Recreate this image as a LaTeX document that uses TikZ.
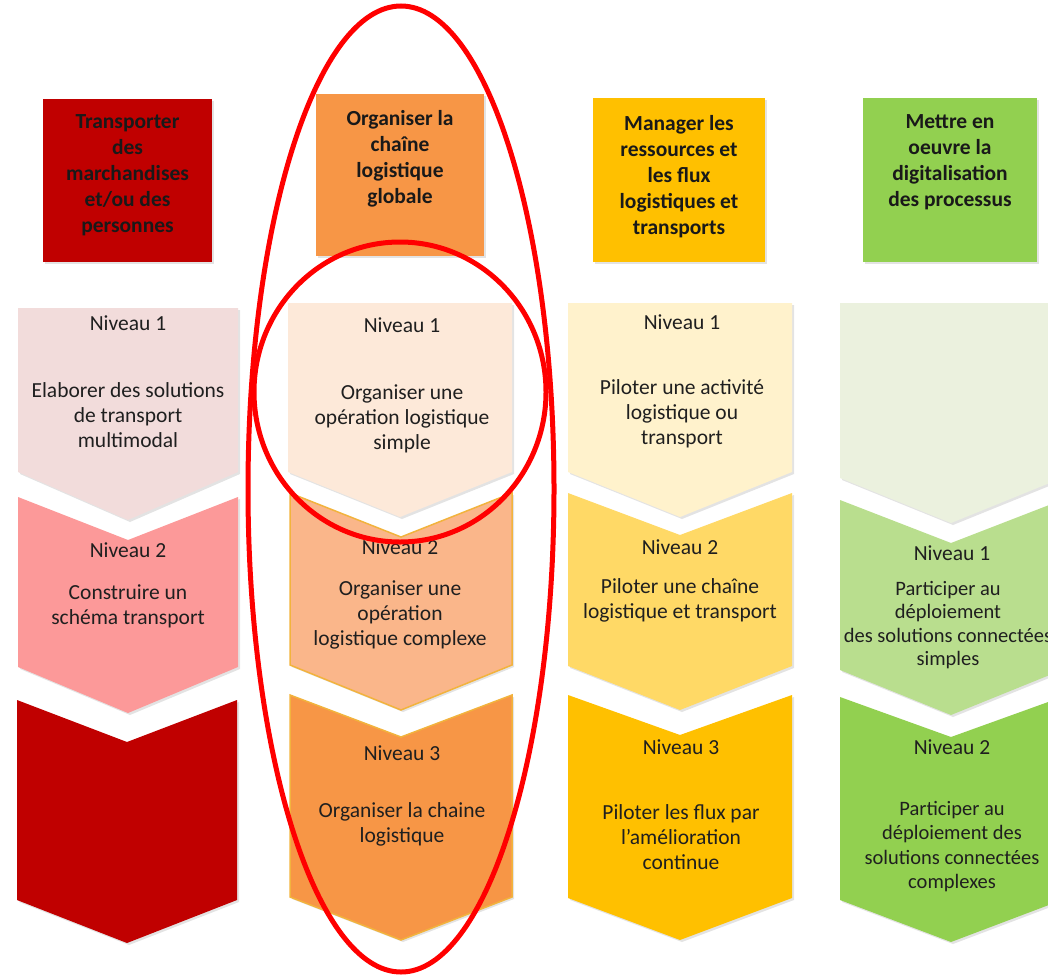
\documentclass[tikz,border=0pt]{standalone}
\usepackage{fontspec}
\setmainfont{Carlito}
\usetikzlibrary{shadows}

\definecolor{redA}{HTML}{C00000}
\definecolor{redB}{HTML}{F2DCDB}
\definecolor{redC}{HTML}{FC9999}
\definecolor{orA}{HTML}{F79646}
\definecolor{orB}{HTML}{FDE9D9}
\definecolor{orC}{HTML}{FAB68A}
\definecolor{orLine}{HTML}{F2B33D}
\definecolor{yeA}{HTML}{FFC000}
\definecolor{yeB}{HTML}{FFF2CC}
\definecolor{yeC}{HTML}{FFD966}
\definecolor{grA}{HTML}{92D050}
\definecolor{grB}{HTML}{EBF1DE}
\definecolor{grC}{HTML}{B9DE8E}

\tikzset{
  shade/.style={drop shadow={shadow xshift=2pt, shadow yshift=-2pt, opacity=.22}},
  hbox/.style={shade, inner sep=0pt},
  htxt/.style={align=center, inner sep=0pt, text=black!90, font=\fontsize{21.5}{26}\selectfont\bfseries},
  lvl/.style={inner sep=0pt, text=black!88, font=\fontsize{21.5}{25}\selectfont},
  body/.style={lvl, align=center},
  ring/.style={draw=red, line width=5pt}
}

\begin{document}
\begin{tikzpicture}[x=1pt, y=-1pt]
      \useasboundingbox (0,0) rectangle (1048,974);

      % en-tetes
      \node[hbox, fill=redA, minimum width=169, minimum height=163] (h1) at (127.5,180.5) {};
      \node[htxt] (h1t) at (127.5,175) {Transporter\\des\\marchandises\\et/ou des\\personnes};
      \node[hbox, fill=orA, minimum width=168, minimum height=162] (h2) at (400,175) {};
      \node[htxt] (h2t) at (400,158.5) {Organiser la\\chaîne\\logistique\\globale};
      \node[hbox, fill=yeA, minimum width=172, minimum height=164] (h3) at (679,180) {};
      \node[htxt] (h3t) at (679,176.5) {Manager les\\ressources et\\les flux\\logistiques et\\transports};
      \node[hbox, fill=grA, minimum width=174, minimum height=164] (h4) at (950,180) {};
      \node[htxt] (h4t) at (950,162) {Mettre en\\oeuvre la\\digitalisation\\des processus};


      % colonne 1
      \fill[shade, redB] (18,308) -- (238,308) -- (238,472) -- (128,520) -- (18,472) -- cycle;
      \fill[shade, redC] (18,497) -- (128,540) -- (238,497) -- (238,667) -- (128,713) -- (18,667) -- cycle;
      \fill[shade, redA] (17,700) -- (127,742) -- (237,700) -- (237,900) -- (127,943) -- (17,900) -- cycle;
      \node[lvl] (n11) at (128,323) {Niveau 1};
      \node[body] (t11) at (128,415) {Elaborer des solutions\\de transport\\multimodal};
      \node[lvl] (n12) at (128,550) {Niveau 2};
      \node[body] (t12) at (128,606.5) {Construire un\\schéma transport};


      % colonne 2
      \fill[shade, orB] (288,303) -- (512,303) -- (512,472) -- (400,517) -- (288,472) -- cycle;
      \filldraw[shade, fill=orC, draw=orLine, line width=1.5pt] (290,493) -- (401,537) -- (512,493) -- (512,665) -- (401,710) -- (290,665) -- cycle;
      \filldraw[shade, fill=orA, draw=orLine, line width=1.5pt] (290,695) -- (401,737) -- (512,695) -- (512,897) -- (401,940) -- (290,897) -- cycle;
      \node[lvl] (n21) at (402,325) {Niveau 1};
      \node[body] (t21) at (402,419) {Organiser une\\opération logistique\\simple};
      \node[lvl] (n22) at (400,547) {Niveau 2};
      \node[body] (t22) at (400,615) {Organiser une\\opération\\logistique complexe};
      \node[lvl] (n23) at (402,753) {Niveau 3};
      \node[body] (t23) at (402,824.5) {Organiser la chaine\\logistique};


      % colonne 3
      \fill[shade, yeB] (568,303) -- (792,303) -- (792,472) -- (680,517) -- (568,472) -- cycle;
      \fill[shade, yeC] (568,493) -- (680,535) -- (792,493) -- (792,666) -- (680,710) -- (568,666) -- cycle;
      \fill[shade, yeA] (568,695) -- (680,735) -- (792,695) -- (792,898) -- (680,940) -- (568,898) -- cycle;
      \node[lvl] (n31) at (682,322) {Niveau 1};
      \node[body] (t31) at (682,414) {Piloter une activité\\logistique ou\\transport};
      \node[lvl] (n32) at (680,547) {Niveau 2};
      \node[body] (t32) at (680,600) {Piloter une chaîne\\logistique et transport};
      \node[lvl] (n33) at (681,747) {Niveau 3};
      \node[body] (t33) at (681,837.5) {Piloter les flux par\\l'amélioration\\continue};


      % colonne 4
      \fill[shade, grB] (840,303) -- (1062,303) -- (1062,478) -- (951,523) -- (840,478) -- cycle;
      \fill[shade, grC] (840,500) -- (951,543) -- (1062,500) -- (1062,670) -- (951,715) -- (840,670) -- cycle;
      \fill[shade, grA] (840,697) -- (951,737) -- (1062,697) -- (1062,900) -- (951,942) -- (840,900) -- cycle;
      \node[lvl] (n41) at (952,553) {Niveau 1};
      \node[body, font=\fontsize{20.5}{23.5}\selectfont] (t41) at (948,625) {Participer au\\déploiement\\des solutions connectées\\simples};
      \node[lvl] (n42) at (952,747) {Niveau 2};
      \node[body, font=\fontsize{20.5}{24.3}\selectfont] (t42) at (952,846.5) {Participer au\\déploiement des\\solutions connectées\\complexes};


      % ellipses rouges
      \draw[ring] (401,489) ellipse [x radius=153, y radius=483];
      \draw[ring] (400,392) ellipse [x radius=146, y radius=150];
\end{tikzpicture}
\end{document}
